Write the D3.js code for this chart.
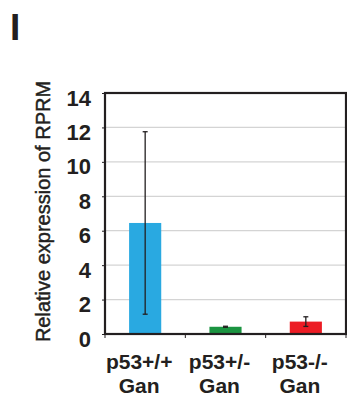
<!DOCTYPE html>
<html>
<head>
<meta charset="utf-8">
<script src="https://cdn.jsdelivr.net/npm/d3@7"></script>
<style>
  html, body { margin: 0; padding: 0; background: #fff; }
  svg { display: block; font-family: "Liberation Sans", Arial, Helvetica, sans-serif; }
</style>
</head>
<body>
<svg id="chart" width="347" height="396"></svg>
<script>
// Relative RPRM expression by p53 genotype (ganciclovir treated)
const categories = ["p53+/+", "p53+/-", "p53-/-"];
const subLabels = ["Gan", "Gan", "Gan"];
const means = [6.45, 0.42, 0.72];
const errors = [5.3, 0.03, 0.28];
const barColors = ["#29a9e1", "#1b9441", "#ec1c24"];
const yTicks = [0, 2, 4, 6, 8, 10, 12, 14];
const panelLetter = "I";
const yTitle = "Relative expression of RPRM";

const svg = d3.select("#chart");
const W = 347, H = 396;
const plot = { left: 105, right: 346, top: 93, bottom: 334 };
const ink = "#231f20";

svg.append("rect").attr("width", W).attr("height", H).attr("fill", "#fff");

const x = d3.scaleBand()
  .domain(categories)
  .range([plot.left, plot.right])
  .paddingInner(0.6)
  .paddingOuter(0.3);

const y = d3.scaleLinear().domain([0, 14]).range([plot.bottom, plot.top]);

// horizontal gridlines
svg.append("g")
  .selectAll("line")
  .data(yTicks.filter(t => t > 0 && t < 14))
  .join("line")
  .attr("x1", plot.left).attr("x2", plot.right)
  .attr("y1", d => y(d)).attr("y2", d => y(d))
  .attr("stroke", "#d4d4d4").attr("stroke-width", 1.2);

// bars
svg.append("g")
  .selectAll("rect")
  .data(categories)
  .join("rect")
  .attr("x", d => x(d))
  .attr("width", x.bandwidth())
  .attr("y", (d, i) => y(means[i]))
  .attr("height", (d, i) => y(0) - y(means[i]))
  .attr("fill", (d, i) => barColors[i]);

// error bars
const eg = svg.append("g").attr("stroke", ink).attr("stroke-width", 1.3);
categories.forEach((c, i) => {
  const cx = x(c) + x.bandwidth() / 2;
  const hi = y(means[i] + errors[i]);
  const lo = y(means[i] - errors[i]);
  eg.append("line").attr("x1", cx).attr("x2", cx).attr("y1", hi).attr("y2", lo);
  eg.append("line").attr("x1", cx - 2.5).attr("x2", cx + 2.5).attr("y1", hi).attr("y2", hi);
  eg.append("line").attr("x1", cx - 2.5).attr("x2", cx + 2.5).attr("y1", lo).attr("y2", lo);
});

// plot frame
svg.append("rect")
  .attr("x", plot.left).attr("y", plot.top)
  .attr("width", plot.right - plot.left).attr("height", plot.bottom - plot.top)
  .attr("fill", "none").attr("stroke", ink).attr("stroke-width", 2.2);

// y axis ticks and labels
const yAxis = d3.axisLeft(y).tickValues(yTicks).tickSize(3).tickPadding(11);
const yg = svg.append("g").attr("transform", `translate(${plot.left},0)`).call(yAxis);
yg.select(".domain").remove();
yg.selectAll(".tick line").attr("stroke", ink).attr("stroke-width", 1);
yg.selectAll(".tick text")
  .attr("fill", ink)
  .attr("font-size", 22).attr("font-weight", "bold")
  .attr("font-family", "'Liberation Sans', Arial, sans-serif")
  .attr("dy", "0.55em");

// category boundary ticks under the axis
const half = x.step() * x.paddingInner() / 2;
const bounds = [plot.left].concat(categories.slice(1).map(c => x(c) - half), [plot.right]);
svg.append("g")
  .selectAll("line")
  .data(bounds)
  .join("line")
  .attr("x1", d => d).attr("x2", d => d)
  .attr("y1", plot.bottom).attr("y2", plot.bottom + 4)
  .attr("stroke", ink).attr("stroke-width", 1);

// category labels (two lines)
const lg = svg.append("g")
  .attr("fill", ink)
  .attr("font-size", 21).attr("font-weight", "bold")
  .attr("text-anchor", "middle");
categories.forEach((c, i) => {
  const cx = x(c) + x.bandwidth() / 2 - 6;
  lg.append("text").attr("x", cx).attr("y", 369).text(c);
  lg.append("text").attr("x", cx).attr("y", 393).text(subLabels[i]);
});

// y axis title
svg.append("text")
  .attr("transform", `translate(50,${(plot.top + plot.bottom) / 2 - 2}) rotate(-90)`)
  .attr("text-anchor", "middle")
  .attr("fill", ink)
  .attr("stroke", ink).attr("stroke-width", 0.45)
  .attr("font-size", 20)
  .text(yTitle);

// panel letter
svg.append("text")
  .attr("x", 10).attr("y", 40)
  .attr("fill", ink)
  .attr("font-size", 37).attr("font-weight", "bold")
  .text(panelLetter);
</script>
</body>
</html>
